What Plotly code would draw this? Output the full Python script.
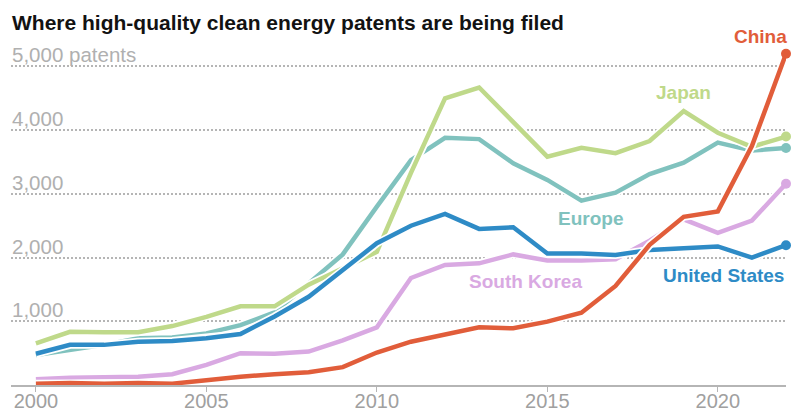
import plotly.graph_objects as go

years = list(range(2000, 2023))
china = [20, 30, 20, 30, 20, 80, 130, 170, 200, 280, 510, 680, 790, 905, 890, 995, 1135, 1555, 2200, 2640, 2725, 3750, 5200]
japan = [655, 835, 830, 830, 925, 1070, 1235, 1235, 1575, 1830, 2090, 3330, 4500, 4670, 4130, 3585, 3725, 3640, 3830, 4300, 3960, 3740, 3900]
europe = [470, 550, 630, 735, 745, 810, 940, 1140, 1600, 2050, 2800, 3530, 3880, 3860, 3480, 3220, 2895, 3020, 3310, 3490, 3805, 3680, 3720]
us = [490, 630, 630, 680, 690, 735, 800, 1075, 1385, 1800, 2225, 2500, 2685, 2450, 2475, 2065, 2065, 2040, 2120, 2145, 2175, 2000, 2195]
korea = [90, 115, 120, 130, 170, 315, 500, 490, 525, 700, 905, 1680, 1885, 1910, 2050, 1955, 1955, 1975, 2265, 2600, 2390, 2580, 3160]

series_names = ["Europe", "Japan", "South Korea", "United States", "China"]
series_values = [europe, japan, korea, us, china]
series_colors = ["#80c2be", "#bfd98a", "#d9a9e2", "#2e8bc6", "#e15d3a"]

x_tickvals = [2000, 2005, 2010, 2015, 2020]
x_ticktext = ["2000", "2005", "2010", "2015", "2020"]
y_tickvals = [1000, 2000, 3000, 4000, 5000]
y_ticktext = ["1,000", "2,000", "3,000", "4,000", "5,000 patents"]

FONT = "Liberation Sans, Arial, sans-serif"

fig = go.Figure()
for name, vals, col in zip(series_names, series_values, series_colors):
    fig.add_trace(go.Scatter(x=years, y=vals, mode="lines",
                             line=dict(color="white", width=8), hoverinfo="skip",
                             showlegend=False, cliponaxis=False))
    fig.add_trace(go.Scatter(x=years, y=vals, mode="lines", name=name,
                             line=dict(color=col, width=4.5), showlegend=False,
                             cliponaxis=False))
    fig.add_trace(go.Scatter(x=[years[-1]], y=[vals[-1]], mode="markers",
                             marker=dict(color=col, size=10), showlegend=False,
                             cliponaxis=False, hoverinfo="skip"))

# y-axis tick labels, drawn above their gridlines at the y values of the ticks
for val, txt in zip(y_tickvals, y_ticktext):
    fig.add_annotation(x=0, xref="paper", y=val, yref="y", text=txt,
                       showarrow=False, xanchor="left", yanchor="bottom",
                       xshift=-1, yshift=-2,
                       font=dict(family=FONT, size=20.5, color="#b0b0b0"))

# direct series labels (China sits outside the plot area, so it uses paper coords)
labels = [
    ("China", 1.004, "paper", 1.012, "paper", "right", "#e15d3a"),
    ("Japan", 2019.0, "x", 4590, "y", "center", "#bfd98a"),
    ("Europe", 2016.28, "x", 2610, "y", "center", "#80c2be"),
    ("South Korea", 2014.37, "x", 1630, "y", "center", "#d9a9e2"),
    ("United States", 2022.0, "x", 1720, "y", "right", "#2e8bc6"),
]
for txt, xx, xr, yy, yr, anc, col in labels:
    fig.add_annotation(x=xx, xref=xr, y=yy, yref=yr, text="<b>%s</b>" % txt,
                       showarrow=False, xanchor=anc, yanchor="middle",
                       font=dict(family=FONT, size=19, color=col))

fig.update_layout(
    width=800, height=419,
    margin=dict(l=11, r=14, t=41, b=34),
    paper_bgcolor="white", plot_bgcolor="white",
    title=dict(text="<b>Where high-quality clean energy patents are being filed</b>",
               font=dict(family=FONT, size=21, color="#121212"),
               xref="container", x=12/800, xanchor="left",
               yref="container", y=1-23/419, yanchor="middle"),
    font=dict(family=FONT),
)
fig.update_xaxes(range=[1999.27, 2022], tickvals=x_tickvals, ticktext=x_ticktext,
                 showgrid=False, zeroline=False, showline=True, linecolor="#b5b5b5",
                 linewidth=1.5, ticks="outside", ticklen=5, tickcolor="#b5b5b5",
                 tickwidth=1, automargin=False, ticklabelstandoff=-8,
                 tickfont=dict(family=FONT, size=20, color="#a0a0a0"))
fig.update_yaxes(range=[0, 5400], tickvals=y_tickvals, showticklabels=False,
                 showgrid=True, gridcolor="#b5b5b5", griddash="1.5px,2.5px", gridwidth=1.5,
                 zeroline=False, showline=False, ticks="", automargin=False)

fig.write_html("out.html", config={"displayModeBar": False},
               post_script="document.body.style.margin='0px';")
